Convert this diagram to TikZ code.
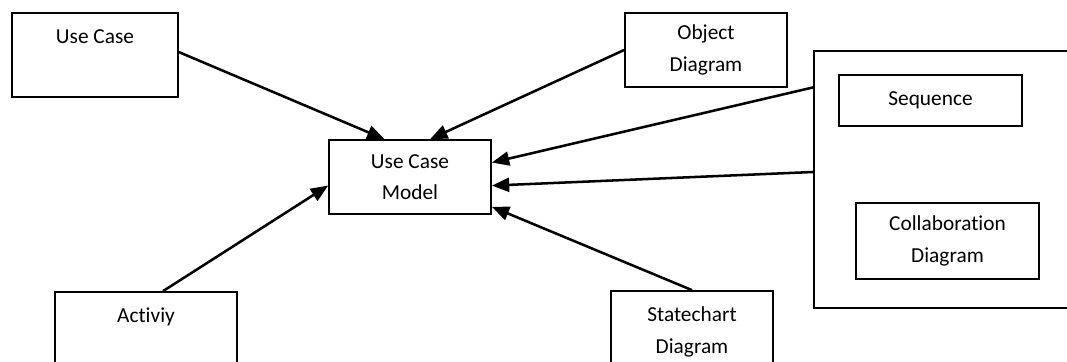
\documentclass[tikz,border=0pt]{standalone}
\usepackage{fontspec}
\setmainfont{Carlito}[Ligatures=NoCommon]
\usetikzlibrary{arrows.meta,calc}

\begin{document}
\begin{tikzpicture}[x=0.75pt,y=-0.75pt,
  box/.style={draw,line width=1.3pt,fill=white,align=center,inner sep=0pt,
    font=\fontsize{16}{23.5}\selectfont},
  toptext/.style={label={[anchor=base,yshift=-23.5pt,
    font=\fontsize{16}{23.5}\selectfont]north:#1}},
  link/.style={line width=1.9pt,-{Triangle[length=13pt,width=10.5pt]}}]
\clip (0,0) rectangle (1067,361);

\node[box,minimum width=124.5pt,minimum height=63pt,toptext=Use Case] (usecase) at (95,55) {};
\node[box,minimum width=121.5pt,minimum height=55.5pt] (object) at (706,50) {Object\\Diagram};
\node[box,minimum width=121.5pt,minimum height=55.5pt] (model) at (410,177) {Use Case\\Model};

% right frame, its right side runs off the page
\node[box,minimum width=222pt,minimum height=192.75pt] (frame) at (962,179.5) {};
\node[box,minimum width=137.25pt,minimum height=38.25pt] (sequence) at (930.5,100.5) {Sequence};
\node[box,minimum width=137.25pt,minimum height=57pt] (collab) at (947.5,241) {Collaboration\\Diagram};

\node[box,minimum width=136.5pt,minimum height=66pt,toptext=Activiy] (activity) at (146,336) {};
\node[box,minimum width=121.5pt,minimum height=61.5pt] (statechart) at (692,332) {Statechart\\Diagram};

\draw[link] (usecase.2) -- (model.124);
\draw[link] (object.west) -- (model.62);
\draw[link] ($(frame.north west)!0.144!(frame.south west)$) -- (model.10);
\draw[link] ($(frame.north west)!0.471!(frame.south west)$) -- (model.-6);
\draw[link] (statechart.north) -- (model.-20);
\draw[link] ($(activity.north)+(17,0)$) -- (model.186);

\end{tikzpicture}
\end{document}
